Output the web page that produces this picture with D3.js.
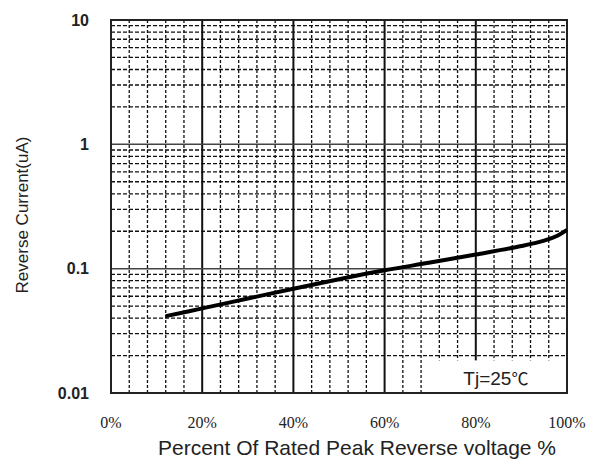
<!DOCTYPE html>
<html lang="en">
<head>
  <meta charset="UTF-8">
  <title>Reverse Current vs Percent Of Rated Peak Reverse Voltage</title>
  <style>
    body { margin: 0; background: #fff; }
    .ytick { font-family: "Liberation Sans", Arial, sans-serif; font-size: 16px; font-weight: bold; fill: #222; }
    .xtick { font-family: "Liberation Serif", "Times New Roman", serif; font-size: 16px; fill: #222; }
    .title { font-family: "Liberation Sans", Arial, sans-serif; font-size: 21px; fill: #222; }
  </style>
</head>
<body>
  <div id="chart"></div>
  <script src="https://d3js.org/d3.v7.min.js"></script>
  <script>
    // Data
    const percent = [12, 20, 30, 40, 50, 60, 70, 80, 90, 95, 98, 100];
    const current = [0.0415, 0.0479, 0.0575, 0.0690, 0.0822, 0.097, 0.112, 0.130, 0.152, 0.168, 0.185, 0.205];
    const xTicks = [0, 20, 40, 60, 80, 100];
    const yTicks = [0.01, 0.1, 1, 10];
    const yTickLabels = ["0.01", "0.1", "1", "10"];

    const width = 596, height = 462;
    const margin = { top: 20, right: 29, bottom: 69, left: 111 };
    const x0 = margin.left, x1 = width - margin.right;
    const y0 = height - margin.bottom, y1 = margin.top;

    const svg = d3.select("#chart").append("svg")
      .attr("width", width).attr("height", height);

    const x = d3.scaleLinear().domain([0, 100]).range([x0, x1]);
    const y = d3.scaleLog().domain([0.01, 10]).range([y0, y1]);

    const grid = svg.append("g");

    // minor vertical grid every 4%
    const xMinor = d3.range(0, 101, 4).filter(v => v % 20 !== 0);
    grid.selectAll(".vminor").data(xMinor).enter().append("line")
      .attr("x1", d => x(d)).attr("x2", d => x(d))
      .attr("y1", y0).attr("y2", y1)
      .attr("stroke", "#111").attr("stroke-width", 1.3)
      .attr("stroke-dasharray", "3,2");

    // minor horizontal grid 2..9 per decade
    const yMinor = [];
    [0.01, 0.1, 1].forEach(d => { for (let k = 2; k <= 9; k++) yMinor.push(d * k); });
    grid.selectAll(".hminor").data(yMinor).enter().append("line")
      .attr("x1", x0).attr("x2", x1)
      .attr("y1", d => y(d)).attr("y2", d => y(d))
      .attr("stroke", "#111").attr("stroke-width", 1.3)
      .attr("stroke-dasharray", "4,2");

    // major vertical grid
    grid.selectAll(".vmajor").data(xTicks).enter().append("line")
      .attr("x1", d => x(d)).attr("x2", d => x(d))
      .attr("y1", y0).attr("y2", y1)
      .attr("stroke", "#111").attr("stroke-width", 2);

    // major horizontal grid
    grid.selectAll(".hmajor").data(yTicks).enter().append("line")
      .attr("x1", x0).attr("x2", x1)
      .attr("y1", d => y(d)).attr("y2", d => y(d))
      .attr("stroke", "#444").attr("stroke-width", 1.5);

    // legend box (covers grid)
    svg.append("rect")
      .attr("x", x(71.3)).attr("y", y(0.0183))
      .attr("width", x(100) - x(71.3)).attr("height", y(0.01) - y(0.0183))
      .attr("fill", "#fff");
    const leg = svg.append("text")
      .attr("x", x(84.4)).attr("y", y(0.0115))
      .attr("text-anchor", "middle")
      .attr("class", "title")
      .style("font-size", "19px");
    leg.append("tspan").text("Tj=25");
    leg.append("tspan").style("font-family", "'Noto Sans CJK SC', sans-serif").style("font-size", "17px").text("\u2103");

    // frame
    svg.append("rect")
      .attr("x", x0).attr("y", y1)
      .attr("width", x1 - x0).attr("height", y0 - y1)
      .attr("fill", "none").attr("stroke", "#222").attr("stroke-width", 2);

    // curve
    const pts = percent.map((p, i) => [p, current[i]]);
    svg.append("path")
      .datum(pts)
      .attr("fill", "none").attr("stroke", "#000").attr("stroke-width", 4)
      .attr("d", d3.line().x(d => x(d[0])).y(d => y(d[1])).curve(d3.curveCatmullRom));

    // tick labels
    svg.selectAll(".ytick").data(yTicks).enter().append("text")
      .attr("class", "ytick")
      .attr("x", 89).attr("y", d => y(d))
      .attr("dy", "0.35em").attr("text-anchor", "end")
      .text((d, i) => yTickLabels[i]);

    svg.selectAll(".xtick").data(xTicks).enter().append("text")
      .attr("class", "xtick")
      .attr("x", d => x(d)).attr("y", 428)
      .attr("text-anchor", "middle")
      .text(d => d + "%");

    // axis titles
    svg.append("text").attr("class", "title")
      .attr("x", 357).attr("y", 455)
      .attr("text-anchor", "middle")
      .text("Percent Of Rated Peak Reverse voltage %");

    svg.append("text").attr("class", "title")
      .attr("transform", "translate(28,215) rotate(-90)")
      .attr("text-anchor", "middle")
      .style("font-size", "17px")
      .text("Reverse Current(uA)");
  </script>
</body>
</html>
